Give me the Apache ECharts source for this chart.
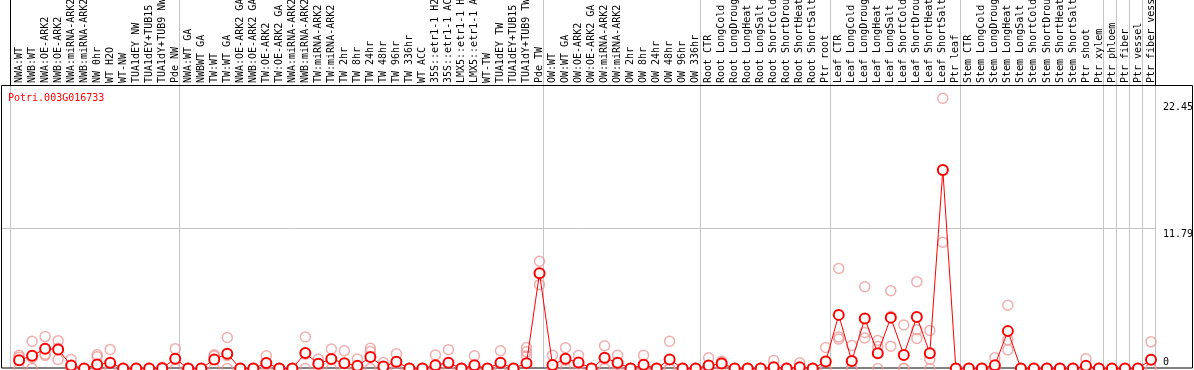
<!DOCTYPE html>
<html><head><meta charset="utf-8">
<script src="https://cdn.jsdelivr.net/npm/echarts@6/dist/echarts.min.js"></script>
<style>html,body{margin:0;padding:0;background:#fff;overflow:hidden}#c{width:1194px;height:370px}</style>
</head><body><div id="c"></div>
<script>
const geneName = 'Potri.003G016733';
const categories = [
 'NWA:WT','NWB:WT','NWA:OE-ARK2','NWB:OE-ARK2','NWA:miRNA-ARK2','NWB:miRNA-ARK2','NW 0hr','WT H2O','WT-NW','TUA1dEY NW','TUA1dEY+TUB15 NW','TUA1dY+TUB9 NW','Pde NW',
 'NWA:WT GA','NWBWT GA','TW:WT','TW:WT GA','NWA:OE-ARK2 GA','NWB:OE-ARK2 GA','TW:OE-ARK2','TW:OE-ARK2 GA','NWA:miRNA-ARK2 GA','NWB:miRNA-ARK2 GA','TW:miRNA-ARK2','TW:miRNA-ARK2 GA',
 'TW 2hr','TW 8hr','TW 24hr','TW 48hr','TW 96hr','TW 336hr','WT ACC','35S::etr1-1 H2O','35S::etr1-1 ACC','LMX5::etr1-1 H2O','LMX5::etr1-1 ACC','WT-TW','TUA1dEY TW','TUA1dEY+TUB15 TW','TUA1dY+TUB9 TW','Pde TW',
 'OW:WT','OW:WT GA','OW:OE-ARK2','OW:OE-ARK2 GA','OW:miRNA-ARK2','OW:miRNA-ARK2 GA','OW 2hr','OW 8hr','OW 24hr','OW 48hr','OW 96hr','OW 336hr',
 'Root CTR','Root LongCold','Root LongDrought','Root LongHeat','Root LongSalt','Root ShortCold','Root ShortDrought','Root ShortHeat','Root ShortSalt','Ptr root',
 'Leaf CTR','Leaf LongCold','Leaf LongDrought','Leaf LongHeat','Leaf LongSalt','Leaf ShortCold','Leaf ShortDrought','Leaf ShortHeat','Leaf ShortSalt','Ptr leaf',
 'Stem CTR','Stem LongCold','Stem LongDrought','Stem LongHeat','Stem LongSalt','Stem ShortCold','Stem ShortDrought','Stem ShortHeat','Stem ShortSalt','Ptr shoot','Ptr xylem',
 'Ptr phloem','Ptr fiber','Ptr vessel','Ptr fiber vessel'
];
const meanValues = [
 0.70,1.07,1.66,1.60,0.25,0,0.34,0.48,0,0,0,0.03,0.82,
 0,0,0.76,1.24,0,0,0.46,0,0,1.29,0.39,0.79,0.45,0.22,0.96,0.17,0.56,0,0,0.28,0.48,0,0.28,0,0.48,0,0.45,7.97,
 0.30,0.82,0.51,0,0.90,0.48,0,0.31,0,0.76,0,0,
 0.25,0.42,0,0,0,0.11,0,0.11,0,0.58,
 4.49,0.63,4.18,1.28,4.26,1.14,4.32,1.28,16.62,0,
 0,0,0.28,3.13,0,0,0,0,0,0.22,0,
 0,0,0,0.73
];
const rep1 = [
 1.10,2.28,2.67,2.33,0.76,0,1.15,1.60,0,0,0,0.10,1.66,
 0,0,1.15,2.60,0,0,1.07,0,0,2.64,0.79,1.63,1.49,0.79,1.69,0.50,1.24,0,0,1.13,1.58,0,1.07,0,1.49,0,1.75,8.98,
 1.10,1.74,1.10,0,1.91,1.10,0,1.10,0,2.28,0,0,
 0.90,0.60,0,0,0,0.68,0,0.48,0,1.76,
 8.37,1.93,6.85,2.35,6.51,3.64,7.27,3.19,22.63,0,
 0,0,0.90,5.30,0,0,0,0,0,0.81,0,
 0,0,0,2.23
];
const rep2 = [
 0.95,0.90,1.20,1.70,0,0,0.98,0,0,0,0,0,0.80,
 0,0,1.04,1.10,0,0,0.30,0,0,1.20,0.38,0.75,0,0,1.43,0,0.45,0,0,0,0,0,0,0,0,0,1.40,7.97,
 0,0.70,0.40,0,0.80,0.35,0,0,0,0,0,0,
 0,0.50,0,0,0,0,0,0,0,0,
 2.63,0,3.02,1.84,4.37,0,3.25,0.77,16.60,0,
 0,0,0,2.40,0,0,0,0,0,0,0,
 0,0,0,0
];
const rep3 = [
 0,0,1.10,0.76,0,0,0,0,0,0,0,0,0,
 0,0,0,0,0,0,0,0,0,0,0,0,0,0,0,0,0,0,0,0,0,0,0,0,0,0,1.05,7.02,
 0,0,0,0,0,0,0,0,0,0,0,0,
 0,0.15,0,0,0,0,0,0,0,0,
 2.46,0,2.55,0,1.87,0,2.52,0,10.57,0,
 0,0,0,1.56,0,0,0,0,0,0,0,
 0,0,0,0
];
const groupStarts = [0,13,41,53,63,73,84,85,86,87,88];
const yTickValues = [0, 11.79, 22.45];
const gridLineValue = 11.79;

const FONT = '"DejaVu Sans Mono", monospace';
const chart = echarts.init(document.getElementById('c'), null, {renderer:'canvas'});
const repStyle = {color:'rgba(0,0,0,0)', borderColor:'#ee9a9a', borderWidth:1.5};
function repSeries(d){
  return {type:'scatter', data:d, symbol:'circle', symbolSize:10, itemStyle:repStyle, z:2, silent:true, clip:false};
}
chart.setOption({
  animation:false,
  backgroundColor:'#fff',
  grid:{left:12.6, right:36.5, top:85, bottom:1.5, containLabel:false, outerBoundsMode:'none'},
  xAxis:{type:'category', data:categories, position:'top', boundaryGap:true,
    axisLine:{show:false}, axisTick:{show:false}, splitLine:{show:false},
    axisLabel:{rotate:90, interval:0, margin:2, fontFamily:FONT, fontSize:10, color:'#000', hideOverlap:false}},
  yAxis:{type:'value', min:0, max:23.74, axisLine:{show:false}, axisTick:{show:false},
    axisLabel:{show:false}, splitLine:{show:false}},
  series:[
    repSeries(rep1), repSeries(rep2), repSeries(rep3),
    {type:'line', data:meanValues, symbol:'emptyCircle', symbolSize:10, showSymbol:true, clip:false,
     lineStyle:{color:'#ff0000', width:1}, itemStyle:{color:'#ff0000', borderColor:'#ff0000', borderWidth:2}, z:3, silent:true},
    {type:'scatter', data:meanValues, symbol:'emptyCircle', symbolSize:6, clip:false,
     itemStyle:{color:'rgba(0,0,0,0)', borderColor:'#5a0000', borderWidth:1}, z:4, silent:true}
  ]
});

const x0 = chart.convertToPixel({xAxisIndex:0}, 0);
const bw = chart.convertToPixel({xAxisIndex:0}, 1) - x0;
const sepX = k => Math.round(x0 + bw*(k-0.5) - 2.6) + 0.5;
const yPix = v => chart.convertToPixel({yAxisIndex:0}, v);
const g = [];
groupStarts.forEach(k => {
  const sx = sepX(k);
  g.push({type:'line', shape:{x1:sx, y1:0, x2:sx, y2:368}, style:{stroke:'#c4c4c4', lineWidth:1}, z:0, silent:true});
});
[0, 88].forEach(k => {
  const sx = sepX(k);
  g.push({type:'line', shape:{x1:sx, y1:0, x2:sx, y2:85}, style:{stroke:'#000', lineWidth:1}, z:1, silent:true});
});
const gy = Math.round(yPix(gridLineValue)) + 0.5;
g.push({type:'line', shape:{x1:1, y1:gy, x2:sepX(88), y2:gy}, style:{stroke:'#c4c4c4', lineWidth:1}, z:0, silent:true});
g.push({type:'rect', shape:{x:1.5, y:85.5, width:1191, height:282.5}, style:{stroke:'#000', fill:null, lineWidth:1}, z:1, silent:true});
yTickValues.forEach(v => {
  g.push({type:'text', x:1163, y:Math.min(yPix(v)+7, 362), style:{text:String(v), font:'10px ' + FONT, fill:'#000', verticalAlign:'middle', align:'left'}, z:5, silent:true});
});
g.push({type:'text', x:8, y:98, style:{text:geneName, font:'10px ' + FONT, fill:'#ff0000', verticalAlign:'middle', align:'left'}, z:5, silent:true});
chart.setOption({graphic:{elements:g}});
</script></body></html>
